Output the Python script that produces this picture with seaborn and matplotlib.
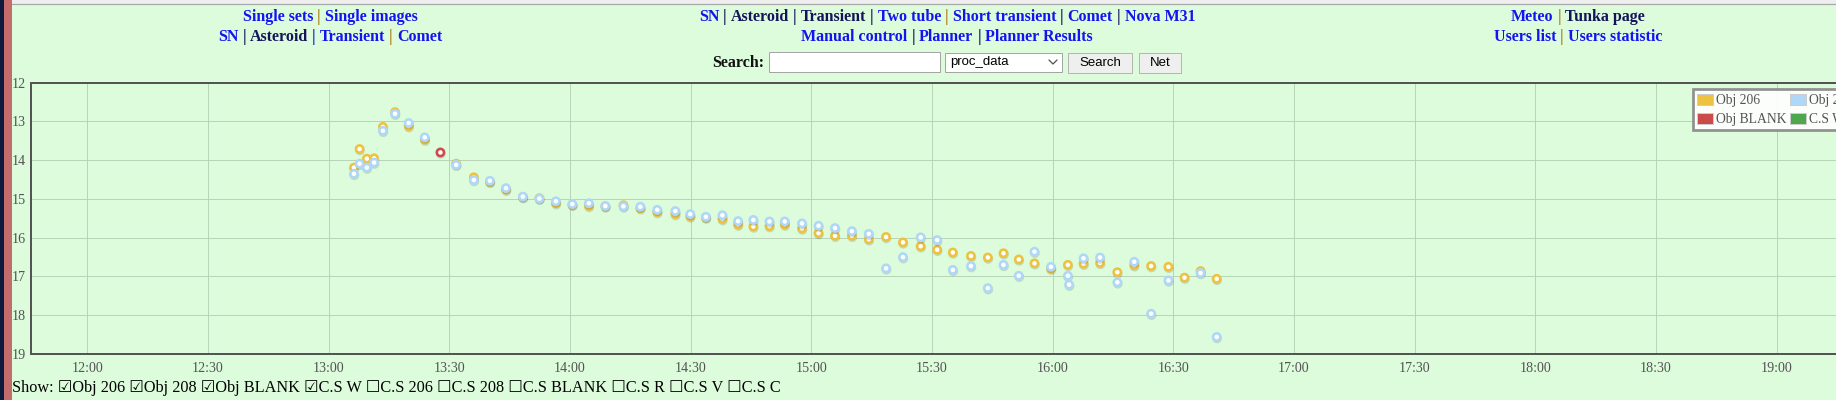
import matplotlib
matplotlib.use("Agg")
import matplotlib.pyplot as plt
import matplotlib.patheffects as pe
from matplotlib.lines import Line2D
from matplotlib.patches import Patch, Rectangle
import pandas as pd
import seaborn as sns

W, H, DPI = 1836, 400, 100
PX = 72.0 / DPI  # points per pixel

# observation times, minutes after 12:00
t_min = [66.3, 67.7, 69.5, 71.3, 73.5, 76.5, 79.9, 83.9, 87.8, 91.7,
         96.1, 100.1, 104.1, 108.3, 112.4, 116.5, 120.6, 124.7, 128.8, 133.3,
         137.5, 141.7, 146.2, 149.9, 153.8, 157.9, 161.8, 165.6, 169.6, 173.4,
         177.7, 181.8, 185.9, 190.1, 194.3, 198.6, 202.8, 207.2, 211.3, 215.2,
         219.7, 223.9, 227.8, 231.6, 235.5, 239.6, 243.8, 247.7, 251.8, 256.1,
         260.3, 264.5, 268.8, 272.8, 276.8, 280.8, 244.1]
nan = float("nan")
mag_206 = [14.19, 13.71, 13.96, 13.95, 13.14, 12.76, 13.12, 13.47, nan, 14.09,
           14.44, 14.56, 14.76, 14.95, 14.98, 15.11, 15.15, 15.18, 15.19, 15.16,
           15.24, 15.34, 15.39, 15.45, 15.48, 15.52, 15.66, 15.71, 15.70, 15.66,
           15.76, 15.88, 15.95, 15.95, 16.04, 15.98, 16.12, 16.22, 16.31, 16.38,
           16.47, 16.51, 16.40, 16.56, 16.66, 16.80, 16.70, 16.67, 16.65, 16.89,
           16.71, 16.73, 16.75, 17.03, 16.86, 17.06, nan]
mag_208 = [14.35, 14.09, 14.19, 14.06, 13.24, 12.80, 13.04, 13.41, nan, 14.12,
           14.51, 14.53, 14.72, 14.94, 14.99, 15.06, 15.13, 15.11, 15.18, 15.19,
           15.20, 15.28, 15.31, 15.39, 15.46, 15.42, 15.57, 15.54, 15.58, 15.58,
           15.63, 15.69, 15.75, 15.83, 15.90, 16.79, 16.50, 15.99, 16.06, 16.83,
           16.73, 17.30, 16.70, 16.98, 16.36, 16.75, 16.98, 16.53, 16.51, 17.15,
           16.62, 17.96, 17.10, nan, 16.91, 18.56, 17.21]
t_blank = [87.8]
mag_blank = [13.80]

series_names = ["Obj 206", "Obj 208", "Obj BLANK", "C.S W"]
series_colors = ["#edc240", "#afd8f8", "#cb4b4b", "#4da74d"]
time_labels = ["12:00", "12:30", "13:00", "13:30", "14:00", "14:30", "15:00", "15:30",
               "16:00", "16:30", "17:00", "17:30", "18:00", "18:30", "19:00"]
mag_ticks = [12, 13, 14, 15, 16, 17, 18, 19]
show_items = [("Obj 206", True), ("Obj 208", True), ("Obj BLANK", True), ("C.S W", True),
              ("C.S 206", False), ("C.S 208", False), ("C.S BLANK", False),
              ("C.S R", False), ("C.S V", False), ("C.S C", False)]

BG = "#dcfcdc"
TXT = "#545454"
BLUE, NAVY, ORANGE = "#1414f0", "#14145a", "#b07a1c"

sns.set_style("white")
plt.rcParams["font.family"] = ["Liberation Serif", "DejaVu Sans"]

fig = plt.figure(figsize=(W / DPI, H / DPI), dpi=DPI, facecolor=BG)


def fx(x):
    return x / W


def fy(y):
    return 1 - y / H


# page decoration: top strip and left border
fig.patches.append(Rectangle((fx(12), fy(4.3)), 1, 4.3 / H, transform=fig.transFigure,
                             facecolor="#eeeeee", edgecolor="none"))
fig.lines.append(Line2D([fx(12), 1], [fy(4.3), fy(4.3)], transform=fig.transFigure,
                        color="#a8a8a8", lw=1.2 * PX))
fig.patches.append(Rectangle((0, 0), fx(11.5), 1, transform=fig.transFigure,
                             facecolor="#c46b6b", edgecolor="none"))
fig.patches.append(Rectangle((0, 0), fx(3.5), 1, transform=fig.transFigure,
                             facecolor="#0d1a3c", edgecolor="none"))

# chart: axes extends past the right edge of the page, like the screenshot
left_px, right_px, top_px, bot_px = 31, 1900, 82.7, 354
ax = fig.add_axes([fx(left_px), fy(bot_px), fx(right_px - left_px), (bot_px - top_px) / H])
ax.set_facecolor(BG)

df = pd.DataFrame({"hour": [12 + m / 60 for m in t_min], "Obj 206": mag_206, "Obj 208": mag_208})
blank = pd.DataFrame({"hour": [12 + m / 60 for m in t_blank], "Obj BLANK": mag_blank})

shadow = [pe.SimpleLineShadow(offset=(0.3, -1.0), shadow_color="k", alpha=0.13), pe.Normal()]
for data, name, col in [(df, "Obj 206", series_colors[0]), (df, "Obj 208", series_colors[1]),
                        (blank, "Obj BLANK", series_colors[2])]:
    sns.scatterplot(data=data, x="hour", y=name, ax=ax, s=(7.2 * PX) ** 2, marker="o",
                    facecolor="white", edgecolor=col, linewidth=2.6 * PX,
                    zorder=3, path_effects=shadow, clip_on=False)

tick_hours = [int(s[:2]) + int(s[3:]) / 60 for s in time_labels]
ax.set_xticks(tick_hours)
ax.set_xticklabels(time_labels)
ax.set_yticks(mag_ticks)
ax.set_yticklabels([str(v) for v in mag_ticks])
x0 = 12 + (left_px - 87.3) / 4.022 / 60
x1 = 12 + (right_px - 87.3) / 4.022 / 60
ax.set_xlim(x0, x1)
ax.set_ylim(19, 12)
ax.set_xlabel("")
ax.set_ylabel("")
ax.grid(True, color="#b9d4b9", lw=1 * PX)
ax.set_axisbelow(True)
ax.tick_params(axis="both", length=0, labelsize=14 * PX, labelcolor=TXT)
ax.tick_params(axis="x", pad=5.5)
ax.tick_params(axis="y", pad=4.0)
for side in ["top", "bottom", "left"]:
    ax.spines[side].set_color(TXT)
    ax.spines[side].set_linewidth(2 * PX)
ax.spines["right"].set_visible(False)

# legend is filled column by column, so order handles to read row by row
order = [0, 2, 1, 3]
handles = [Patch(facecolor=series_colors[i], edgecolor="#cccccc", linewidth=1 * PX) for i in order]
labels = [series_names[i] for i in order]
leg = ax.legend(handles, labels, ncol=2, loc="upper left",
                bbox_to_anchor=(fx(1692.7), fy(89.3)), bbox_transform=fig.transFigure,
                fontsize=13.6 * PX, frameon=True, fancybox=False, borderpad=0.32,
                handlelength=1.2, handleheight=0.88, handletextpad=0.22,
                columnspacing=0.22, labelspacing=0.42, borderaxespad=0)
leg.get_frame().set_edgecolor("#858585")
leg.get_frame().set_linewidth(2.7 * PX)
leg.get_frame().set_facecolor("white")
leg.get_frame().set_alpha(0.9)
for t in leg.get_texts():
    t.set_color(TXT)

# header links
renderer = fig.canvas.get_renderer()


def rich_line(cx, base_y, parts, size=16, weight="bold"):
    gap = 4.0
    texts, widths = [], []
    for s, c in parts:
        t = fig.text(0, fy(base_y), s, color=c, fontsize=size * PX, fontweight=weight,
                     va="baseline", ha="left")
        texts.append(t)
        widths.append(t.get_window_extent(renderer).width)
    total = sum(widths) + gap * (len(parts) - 1)
    x = cx - total / 2
    for t, w in zip(texts, widths):
        t.set_x(fx(x))
        x += w + gap


rich_line(330, 20.7, [("Single sets", BLUE), ("|", ORANGE), ("Single images", BLUE)])
rich_line(330, 40.7, [("SN", BLUE), ("|", NAVY), ("Asteroid", NAVY), ("|", BLUE),
                      ("Transient", BLUE), ("|", ORANGE), ("Comet", BLUE)])
rich_line(947, 20.7, [("SN", BLUE), ("|", NAVY), ("Asteroid", NAVY), ("|", NAVY),
                      ("Transient", NAVY), ("|", NAVY), ("Two tube", BLUE), ("|", ORANGE),
                      ("Short transient", BLUE), ("|", NAVY), ("Comet", BLUE), ("|", NAVY),
                      ("Nova M31", BLUE)])
rich_line(947, 40.7, [("Manual control", BLUE), ("|", NAVY), ("Planner", BLUE), ("|", NAVY),
                      ("Planner Results", BLUE)])
rich_line(1578, 20.7, [("Meteo", BLUE), ("|", ORANGE), ("Tunka page", NAVY)])
rich_line(1578, 40.7, [("Users list", BLUE), ("|", ORANGE), ("Users statistic", BLUE)])

# search form
fig.text(fx(712.3), fy(67.3), "Search:", fontsize=16 * PX, fontweight="bold",
         color="#111111", va="baseline")


def box(x0b, y0b, x1b, y1b, face, edge):
    fig.patches.append(Rectangle((fx(x0b), fy(y1b)), fx(x1b - x0b), (y1b - y0b) / H,
                                 transform=fig.transFigure, facecolor=face,
                                 edgecolor=edge, linewidth=1 * PX))


box(769, 52.3, 940.3, 72.3, "white", "#a5a5a5")
box(945.3, 52.7, 1062.3, 71.7, "white", "#a5a5a5")
fig.text(fx(950), fy(62.3), "proc_data", fontsize=13.3 * PX, family="Liberation Sans",
         color="black", va="center")
fig.lines.append(Line2D([fx(1049), fx(1053), fx(1057)], [fy(60), fy(64), fy(60)],
                        transform=fig.transFigure, color="#555555", lw=1.3 * PX))
box(1068.3, 52.7, 1132.3, 72.7, "#efefef", "#b5b5b5")
fig.text(fx(1100.3), fy(62.7), "Search", fontsize=13.3 * PX, family="Liberation Sans",
         color="black", va="center", ha="center")
box(1139, 52.7, 1181.3, 72.7, "#efefef", "#b5b5b5")
fig.text(fx(1160.2), fy(62.7), "Net", fontsize=13.3 * PX, family="Liberation Sans",
         color="black", va="center", ha="center")

# series toggles
show_text = "Show: " + " ".join(("\u2611" if on else "\u2610") + name for name, on in show_items)
fig.text(fx(11.5), fy(391.7), show_text, fontsize=16.3 * PX, color="black", va="baseline")

fig.savefig("out.png", dpi=DPI, facecolor=BG)
